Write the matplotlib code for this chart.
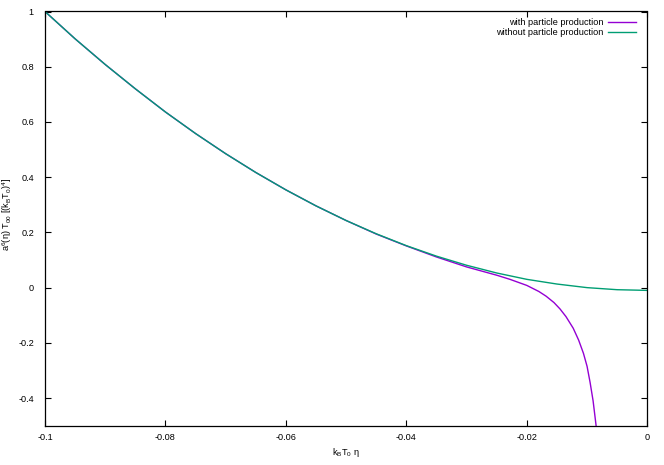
import numpy as np
import matplotlib
matplotlib.use("Agg")
import matplotlib.pyplot as plt
from matplotlib.lines import Line2D

plt.rcParams["font.family"] = ["Liberation Sans", "DejaVu Sans"]
plt.rcParams["font.size"] = 6.6
plt.rcParams["mathtext.default"] = "regular"
plt.rcParams["axes.unicode_minus"] = False

# values
eta_without = [-0.100, -0.095, -0.090, -0.085, -0.080, -0.075, -0.070, -0.065,
               -0.060, -0.055, -0.050, -0.045, -0.040, -0.035, -0.030, -0.025,
               -0.020, -0.015, -0.010, -0.005, 0.000]
t00_without = [1.000, 0.901, 0.808, 0.720, 0.636, 0.558, 0.485, 0.417,
               0.354, 0.296, 0.243, 0.195, 0.152, 0.114, 0.081, 0.053,
               0.030, 0.013, 0.000, -0.0075, -0.010]

eta_with = [-0.100, -0.095, -0.090, -0.085, -0.080, -0.075, -0.070, -0.065,
            -0.060, -0.055, -0.050, -0.045, -0.040, -0.035, -0.030, -0.0275,
            -0.025, -0.0228, -0.020, -0.018, -0.0168, -0.0155, -0.0145,
            -0.0135, -0.0129, -0.0123, -0.0114, -0.0106, -0.0100, -0.0095,
            -0.0090, -0.0085, -0.0082]
t00_with = [1.000, 0.901, 0.808, 0.720, 0.636, 0.558, 0.485, 0.417,
            0.354, 0.296, 0.243, 0.194, 0.151, 0.111, 0.075, 0.060,
            0.045, 0.030, 0.008, -0.014, -0.031, -0.054, -0.077,
            -0.105, -0.126, -0.147, -0.190, -0.238, -0.285, -0.343,
            -0.410, -0.500, -0.560]

x_ticks = [-0.1, -0.08, -0.06, -0.04, -0.02, 0]
x_tick_labels = ["-0.1", "-0.08", "-0.06", "-0.04", "-0.02", "0"]
y_ticks = [-0.4, -0.2, 0, 0.2, 0.4, 0.6, 0.8, 1]
y_tick_labels = ["-0.4", "-0.2", "0", "0.2", "0.4", "0.6", "0.8", "1"]

labels = ["with particle production", "without particle production"]
colors = ["#9400D3", "#009E73"]

fig = plt.figure(figsize=(6.64, 4.65), dpi=100)
fig.subplots_adjust(left=45 / 664, right=647.3 / 664,
                    top=1 - 11.5 / 465, bottom=1 - 425.7 / 465)
ax = fig.add_subplot(111)

ax.plot(eta_with, t00_with, color=colors[0], lw=1.0)
ax.plot(eta_without, t00_without, color=colors[1], lw=1.0)

ax.set_xlim(-0.1, 0)
ax.set_ylim(-0.5, 1)
ax.set_xticks(x_ticks, x_tick_labels)
ax.set_yticks(y_ticks, y_tick_labels)
ax.tick_params(direction="in", top=True, right=True, length=4.5, width=0.8)
ax.tick_params(axis="x", pad=5)
ax.tick_params(axis="y", pad=8)
for s in ax.spines.values():
    s.set_linewidth(0.9)

ax.set_xlabel("k$_B$T$_0$ η", labelpad=3)
ax.set_ylabel("a$^6$(η) T$_{00}$ [(k$_B$T$_0$)$^4$]")
ax.yaxis.set_label_coords(-0.052, 0.51)

# gnuplot-style key: right-aligned text, sample line on the right
for i, (lab, col) in enumerate(zip(labels, colors)):
    yk = 0.9746 - i * 0.0241
    ax.text(0.9265, yk, lab, transform=ax.transAxes, ha="right", va="center")
    ax.add_line(Line2D([0.9343, 0.9812], [yk, yk], transform=ax.transAxes,
                       color=col, lw=1.0))

fig.savefig("out.png", dpi=100)
